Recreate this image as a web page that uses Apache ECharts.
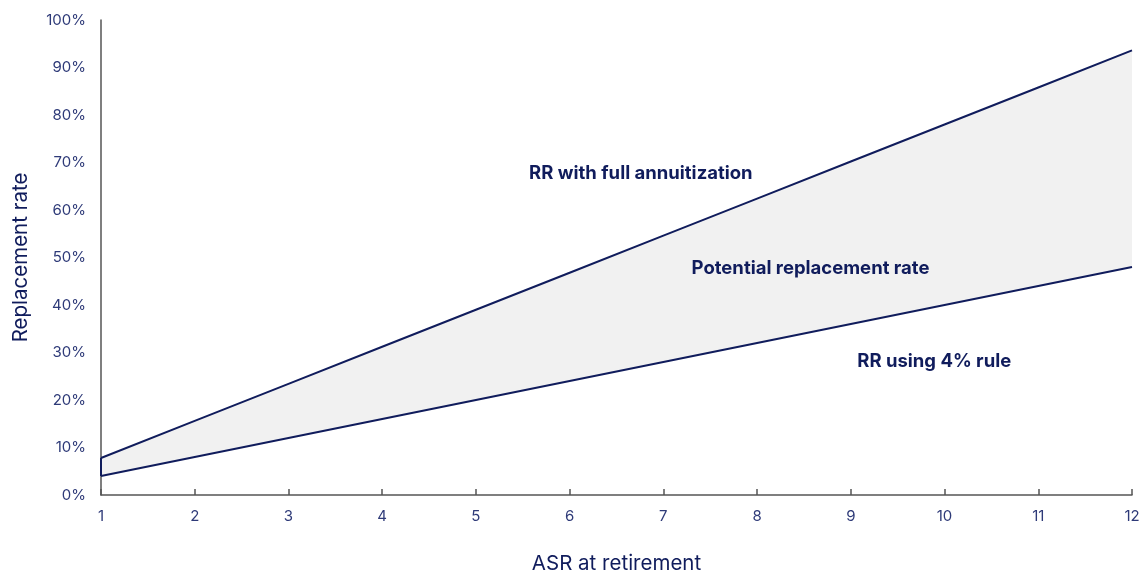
<!DOCTYPE html>
<html><head><meta charset="utf-8">
<script src="https://cdn.jsdelivr.net/npm/echarts@6/dist/echarts.min.js"></script>
<style>html,body{margin:0;padding:0;background:#fff}#c{width:1141px;height:572px}</style>
</head><body><div id="c"></div>
<script>
const asr = [1,2,3,4,5,6,7,8,9,10,11,12];
const rrAnnuity = [7.8,15.6,23.4,31.2,39.0,46.8,54.6,62.4,70.2,78.0,85.8,93.6];
const rr4pct = [4,8,12,16,20,24,28,32,36,40,44,48];
const yTicks = [0,10,20,30,40,50,60,70,80,90,100];
const labels = [
  {name:'RR with full annuitization', x:6.76, y:67.6},
  {name:'Potential replacement rate', x:8.57, y:47.8},
  {name:'RR using 4% rule', x:9.89, y:28.2}
];
const navy = '#101c5c';
const tickColor = '#2e3a78';
const font = 'Inter, "Noto Sans", sans-serif';

const chart = echarts.init(document.getElementById('c'), null, {renderer:'canvas'});
const lowerPts = asr.map((x,i)=>[x, rr4pct[i]]);
const upperPts = asr.map((x,i)=>[x, rrAnnuity[i]]);

chart.setOption({
  animation:false,
  textStyle:{fontFamily:font},
  grid:{left:101,right:9,top:20,bottom:77,containLabel:false,outerBoundsMode:'none'},
  xAxis:{
    type:'value', min:1, max:12, interval:1,
    name:'ASR at retirement', nameLocation:'middle', nameGap:58,
    nameTextStyle:{color:navy,fontSize:20.5,fontFamily:font},
    axisLine:{lineStyle:{color:'#555',width:1.5}},
    axisTick:{show:true,inside:true,length:6,lineStyle:{color:'#555',width:1.5}},
    axisLabel:{color:tickColor,fontSize:15,margin:14,fontFamily:font},
    splitLine:{show:false}
  },
  yAxis:{
    type:'value', min:0, max:100, interval:10,
    name:'Replacement rate', nameLocation:'middle', nameGap:70, nameRotate:90,
    nameTextStyle:{color:navy,fontSize:20.5,fontFamily:font},
    axisLine:{show:true,lineStyle:{color:'#555',width:1.5}},
    axisTick:{show:false},
    axisLabel:{color:tickColor,fontSize:15,margin:15,fontFamily:font,formatter:v=>v+'%'},
    splitLine:{show:false}
  },
  series:[
    {type:'custom', silent:true, z:1,
     data:[0],
     renderItem:(params, api)=>{
       const pts = upperPts.map(p=>api.coord(p)).concat(lowerPts.slice().reverse().map(p=>api.coord(p)));
       return {type:'polygon', shape:{points:pts}, style:{fill:'#f1f1f1'}};
     }},
    {type:'line', data:upperPts, symbol:'none', z:3, lineStyle:{color:navy,width:2}},
    {type:'line', data:lowerPts, symbol:'none', z:3, lineStyle:{color:navy,width:2}},
    {type:'line', data:[[asr[0],rr4pct[0]],[asr[0],rrAnnuity[0]]], symbol:'none', z:3, lineStyle:{color:navy,width:2}},
    {type:'scatter', data:labels.map(l=>({name:l.name,value:[l.x,l.y]})), symbolSize:0, z:4,
     itemStyle:{color:navy,opacity:1},
     label:{show:true,position:'inside',formatter:p=>p.name,color:navy,opacity:1,textBorderWidth:0,
            fontSize:18.5,fontWeight:'bold',fontFamily:font}}
  ]
});
</script></body></html>
